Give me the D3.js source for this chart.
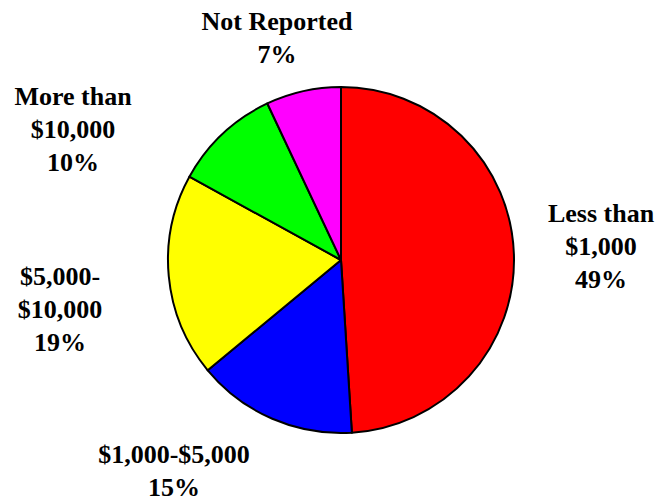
<!DOCTYPE html>
<html>
<head>
<meta charset="utf-8">
<script src="https://cdn.jsdelivr.net/npm/d3@7"></script>
<style>
  body { margin: 0; background: #fff; }
  svg { display: block; }
</style>
</head>
<body>
<svg id="chart"></svg>
<script>
// chart data
const categories = ["Less than $1,000", "$1,000-$5,000", "$5,000-$10,000", "More than $10,000", "Not Reported"];
const values = [49, 15, 19, 10, 7];
const labelLines = [
    ["Less than", "$1,000"],
    ["$1,000-$5,000"],
    ["$5,000-", "$10,000"],
    ["More than", "$10,000"],
    ["Not Reported"]
];
const colors = ["#ff0000", "#0000ff", "#ffff00", "#00ff00", "#ff00ff"];

// label placement (x = centre of text block, y = first baseline)
const labelPos = [
    { x: 601, y: 222 },
    { x: 174, y: 463 },
    { x: 60, y: 285 },
    { x: 73, y: 105 },
    { x: 277, y: 30 }
];

function drawChart() {
    let width = 657;
    let height = 502;
    let cx = 341, cy = 260, radius = 173;
    let lineHeight = 33;

    let svg = d3.select('#chart')
        .attr('width', width)
        .attr('height', height);

    let pie = d3.pie()
        .sort(null)
        .value(function (d) { return d; });

    let arc = d3.arc()
        .innerRadius(0)
        .outerRadius(radius);

    let g = svg.append('g')
        .attr('transform', `translate(${cx}, ${cy})`);

    g.selectAll('path')
        .data(pie(values))
        .enter().append('path')
        .attr('d', arc)
        .attr('fill', function (d, i) { return colors[i]; })
        .attr('stroke', '#000')
        .attr('stroke-width', 2)
        .attr('stroke-linejoin', 'round');

    // labels: category lines plus percentage
    let labels = svg.selectAll('text.label')
        .data(categories)
        .enter().append('text')
        .attr('class', 'label')
        .attr('text-anchor', 'middle')
        .style('font-family', '"Liberation Serif", "Times New Roman", serif')
        .style('font-weight', 'bold')
        .style('font-size', '26px')
        .attr('fill', '#000');

    labels.each(function (d, i) {
        let lines = labelLines[i].concat([values[i] + '%']);
        let t = d3.select(this);
        lines.forEach(function (line, j) {
            t.append('tspan')
                .attr('x', labelPos[i].x)
                .attr('y', labelPos[i].y + j * lineHeight)
                .text(line);
        });
    });
}

drawChart();
</script>
</body>
</html>
